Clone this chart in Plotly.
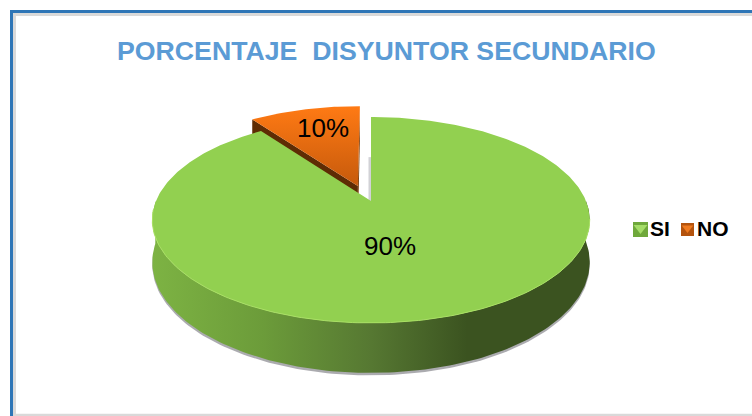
import numpy as np
import plotly.graph_objects as go

categories = ["SI", "NO"]
values = [90, 10]
title_text = "PORCENTAJE\u00a0\u00a0DISYUNTOR SECUNDARIO"

# projection of the tilted disc into the 752x416 frame
CX, CY, A, B, K, DEPTH = 371, 201, 215, 99.5, 0.184, 40.8
EXPLODE = 0.164


def project(u, v, drop=0.0):
    w = 1 + K * v
    return CX + A * u / w, CY - B * v / w + DEPTH * drop / w


def arc(a0, a1, n=160):
    t = np.radians(np.linspace(a0, a1, n))
    return np.sin(t), np.cos(t)


fracs = np.array(values) / sum(values) * 360
si_start, si_end = 0.0, float(fracs[0])
no_start, no_end = si_end, si_end + float(fracs[1])
no_mid = np.radians((no_start + no_end) / 2)
du, dv = EXPLODE * np.sin(no_mid) - 0.012, EXPLODE * np.cos(no_mid)

fig = go.Figure()


def poly(x, y, color=None, gradient=None, line=None, lw=0):
    fig.add_trace(go.Scatter(
        x=list(x), y=list(y), mode="lines", fill="toself",
        fillcolor=color, fillgradient=gradient,
        line=dict(color=line or "rgba(0,0,0,0)", width=lw),
        hoverinfo="skip", showlegend=False))


# ---- soft shadow under the disc
u, v = arc(90, 270)
x, y = project(u, v, 1)
poly(x, y + 2.5, color="rgba(150,150,155,0.8)")

# ---- gray shadow on the cut face behind the gap
x0, y0 = project(0, 0)
x1, y1 = project(0, 0.48)
poly([x0 - 2.5, x0, x1, x1 - 2.5], [y0, y0, y1, y1], color="rgba(205,205,210,0.9)")

# ---- exploded NO wedge: cut face then top
u, v = arc(no_start, no_end, 40)
ux = np.concatenate([[0], u]) + du
vx = np.concatenate([[0], v]) + dv
xt, yt = project(ux, vx)
xb, yb = project(ux, vx, 1)
poly(np.r_[xt[:2], xb[:2][::-1]], np.r_[yt[:2], yb[:2][::-1]], color="#5E2C04")
poly([xt[0], xb[0], xb[-1], xt[-1]], [yt[0], yb[0], yb[-1], yt[-1]], color="#7A3A06")
poly(xt, yt, gradient=dict(type="vertical", start=float(yt.min()), stop=float(yt.max()),
                           colorscale=[[0, "#FF7A14"], [1, "#C65A0C"]]))

# ---- SI side wall with horizontal light-to-dark sweep
u, v = arc(90, 270)
xt, yt = project(u, v)
xb, yb = project(u, v, 1)
poly(np.r_[xt, xb[::-1]], np.r_[yt, yb[::-1]],
     gradient=dict(type="horizontal", start=float(xt.min()), stop=float(xt.max()),
                   colorscale=[[0, "#7DB343"], [0.25, "#6C9C3A"], [0.5, "#567832"],
                               [0.72, "#3B5320"], [1, "#3B5320"]]))

# ---- SI top surface
u, v = arc(si_start, si_end, 400)
ux = np.concatenate([[0], u, [0]])
vx = np.concatenate([[0], v, [0]])
xt, yt = project(ux, vx)
poly(xt, yt, color="#92D050")

# ---- rim highlight along the front edge
u, v = arc(100, 265)
xr, yr = project(u, v)
fig.add_trace(go.Scatter(x=xr, y=yr, mode="lines", line=dict(color="#A9E163", width=1),
                         hoverinfo="skip", showlegend=False))


def label(i):
    return f"{round(values[i] / sum(values) * 100)}%"


fig.add_trace(go.Scatter(
    x=[390, 323], y=[248, 130], mode="text",
    text=[label(0), label(1)], textposition="middle center",
    textfont=dict(family="Liberation Sans", size=26, color="#000000"),
    hoverinfo="skip", showlegend=False))

# ---- legend swatches and names
swatch_x = [640.5, 687.5]
legend_text_x = [650, 697]
swatch_sizes = [15, 13]
swatch_dark = ["#6FA83B", "#B4530D"]
swatch_light = ["#A5DD68", "#F07A1E"]
for i, name in enumerate(categories):
    fig.add_trace(go.Scatter(x=[swatch_x[i]], y=[229.5], mode="markers", showlegend=False,
                             marker=dict(symbol="square", size=swatch_sizes[i], color=swatch_dark[i]),
                             hoverinfo="skip"))
    fig.add_trace(go.Scatter(x=[swatch_x[i]], y=[228], mode="markers", showlegend=False,
                             marker=dict(symbol="triangle-down", size=swatch_sizes[i] - 3, color=swatch_light[i]),
                             hoverinfo="skip"))
    fig.add_trace(go.Scatter(x=[legend_text_x[i]], y=[231], mode="text", name=name, showlegend=False,
                             text=[name], textposition="middle right",
                             textfont=dict(family="Liberation Sans", size=21, color="#000000", weight="bold"),
                             hoverinfo="skip"))

frame = [
    dict(type="rect", xref="x", yref="y", x0=14.5, y0=14.5, x1=800, y1=415.2,
         line=dict(color="#D9D9D9", width=3), layer="below"),
    dict(type="rect", xref="x", yref="y", x0=11.5, y0=11.5, x1=800, y1=500,
         line=dict(color="#2E75B6", width=3), layer="below"),
]

fig.update_layout(
    width=752, height=416, margin=dict(l=0, r=0, t=0, b=0),
    paper_bgcolor="white", plot_bgcolor="white", showlegend=False,
    xaxis=dict(range=[0, 752], visible=False, fixedrange=True),
    yaxis=dict(range=[416, 0], visible=False, fixedrange=True),
    shapes=frame,
    annotations=[dict(x=386, y=51, xref="x", yref="y", text=f"<b>{title_text}</b>", showarrow=False,
                      font=dict(family="Liberation Sans", size=26.7, color="#5B9BD5"))],
)
fig.write_html("out.html", post_script="document.body.style.margin='0';",
               config=dict(displayModeBar=False))
